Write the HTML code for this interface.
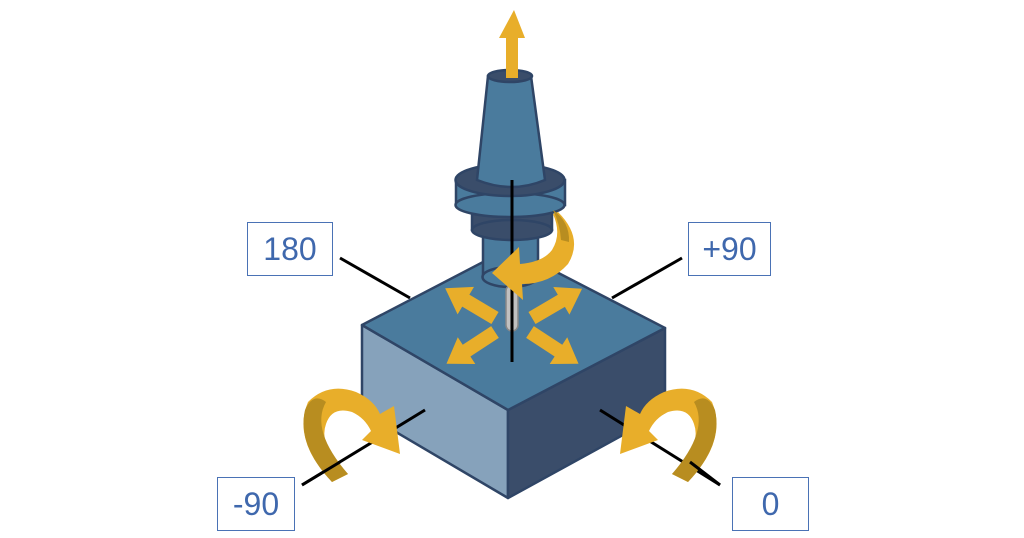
<!DOCTYPE html>
<html><head><style>
html,body{margin:0;padding:0;background:#fff;}
.lbl{position:absolute;border:1.5px solid #4a72b5;background:#fff;color:#3f68ad;font-family:"Liberation Sans",sans-serif;font-size:32px;display:flex;align-items:center;justify-content:center;box-sizing:border-box;}
</style></head><body>
<div style="position:relative;width:1024px;height:538px;overflow:hidden;">
<svg width="1024" height="538" viewBox="0 0 1024 538" style="position:absolute;left:0;top:0">
<defs>
<polygon id="ar" points="0,-7 34,-7 34,-16 58,0 34,16 34,7 0,7"/>
</defs>
<g stroke="#000" stroke-width="3">
<line x1="340" y1="258" x2="410" y2="298"/>
<line x1="682" y1="258" x2="612" y2="298"/>
</g>
<!-- cube -->
<g stroke="#2f4566" stroke-width="2.5" stroke-linejoin="round">
<polygon points="362,325 362,412 508,498 508,410" fill="#86a2bb"/>
<polygon points="508,410 508,498 665,412 665,328" fill="#3a4d6a"/>
<polygon points="362,325 510,248 665,328 508,410" fill="#4a7b9d"/>
</g>
<!-- tool -->
<g stroke="#2f4566" stroke-width="2.5">
<rect x="483" y="225" width="55" height="52" fill="#4a7b9d"/>
<ellipse cx="510" cy="277" rx="27.5" ry="10" fill="#4a7b9d"/>
<rect x="472" y="205" width="80" height="25" fill="#3a4d6a"/>
<ellipse cx="512" cy="230" rx="40" ry="10" fill="#3a4d6a"/>
<rect x="456" y="180" width="109" height="25" fill="#4a7b9d"/>
<ellipse cx="510" cy="205" rx="54.5" ry="12" fill="#4a7b9d"/>
<ellipse cx="510" cy="180" rx="54.5" ry="16" fill="#3a4d6a"/>
<path d="M488,76 L531,76 L545,180 Q512,194 477,180 Z" fill="#4a7b9d"/>
<ellipse cx="510" cy="76" rx="22" ry="6" fill="#3a4d6a"/>
</g>
<rect x="506" y="285" width="12" height="46" rx="6" fill="#c0c0c0" stroke="#888" stroke-width="1.5"/>
<!-- up arrow -->
<polygon points="506,78 506,38 499,38 514,10 525,38 518,38 518,78" fill="#e8ae2a"/>
<!-- center line -->
<line x1="512" y1="180" x2="512" y2="362" stroke="#000" stroke-width="3"/>
<!-- spin arrow -->
<path d="M558,212 Q584,238 568,264 Q550,284 522,284 L523,300 L492,273 L519,247 L520,264 Q543,262 552,250 Q562,234 553,214 Z" fill="#e8ae2a"/>
<path d="M553,210 Q570,222 569,242 L561,240 Q560,224 553,210Z" fill="#b88d20"/>
<!-- cross arrows -->
<g fill="#e8ae2a">
<use href="#ar" transform="translate(495,318) rotate(210.8)"/>
<use href="#ar" transform="translate(532,318) rotate(-30.3)"/>
<use href="#ar" transform="translate(495,332) rotate(146.8)"/>
<use href="#ar" transform="translate(530,332) rotate(33.2)"/>
</g>
<!-- lower lines -->
<g stroke="#000" stroke-width="3">
<line x1="302" y1="485" x2="425" y2="410"/>
<line x1="720" y1="485" x2="600" y2="410"/>
</g>
<!-- left rotation -->
<g id="rl">
<path d="M332,482 Q292,440 308,402 Q328,382 356,392 Q374,400 380,414 L394,406 L400,454 L362,440 L371,431 Q365,418 352,412 Q332,406 326,424 Q318,446 348,474 Z" fill="#e8ae2a"/>
<path d="M332,482 Q297,445 305,410 Q313,392 326,402 Q310,430 348,474 Z" fill="#b88d20"/>
</g>
<!-- right rotation -->
<g transform="translate(1020,0) scale(-1,1)">
<path d="M332,482 Q292,440 308,402 Q328,382 356,392 Q374,400 380,414 L394,406 L400,454 L362,440 L371,431 Q365,418 352,412 Q332,406 326,424 Q318,446 348,474 Z" fill="#e8ae2a"/>
<path d="M332,482 Q297,445 305,410 Q313,392 326,402 Q310,430 348,474 Z" fill="#b88d20"/>
</g>
<line x1="690" y1="462" x2="720" y2="485" stroke="#000" stroke-width="3"/>
<line x1="302" y1="485" x2="340" y2="462" stroke="#000" stroke-width="3"/>
</svg>
<div class="lbl" style="left:247px;top:222px;width:86px;height:54px;">180</div>
<div class="lbl" style="left:688px;top:222px;width:83px;height:54px;">+90</div>
<div class="lbl" style="left:217px;top:477px;width:78px;height:54px;">-90</div>
<div class="lbl" style="left:732px;top:477px;width:77px;height:54px;">0</div>
</div>
</body></html>
